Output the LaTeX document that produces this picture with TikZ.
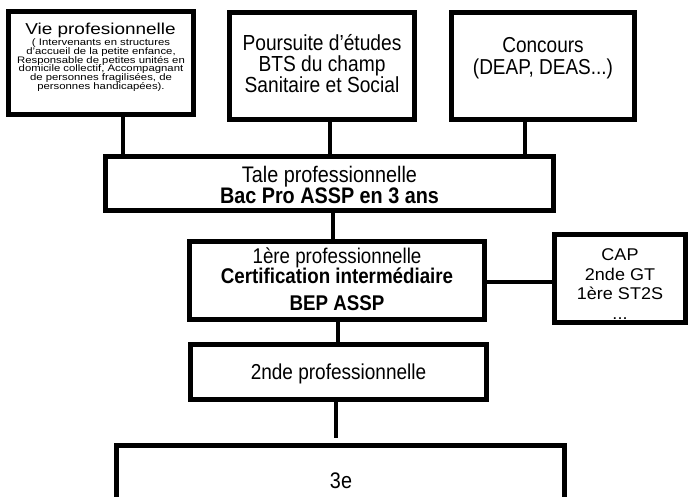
\documentclass[tikz,border=0pt]{standalone}
\usepackage{fontspec}
\setmainfont[FakeStretch=0.88]{Liberation Sans}
\newfontfamily\viefont[FakeStretch=1.2]{Liberation Sans}
\newfontfamily\sidefont[FakeStretch=1.06]{Liberation Sans}
\lineskiplimit=-30pt
\begin{document}
\begin{tikzpicture}[x=1pt,y=-1pt,
  box/.style={draw=black, line width=5pt, fill=white, inner sep=0pt},
  conn/.style={line width=4pt, draw=black},
  txt/.style={inner sep=0pt, align=center, text=black}]
\path[use as bounding box] (0,0) rectangle (688,496);
\clip (0,0) rectangle (688,496);
\fill[white] (0,0) rectangle (688,496);
% boxes
\node[box, minimum width=185pt, minimum height=103pt] (vie)   at (101,63) {};
\node[box, minimum width=185pt, minimum height=107pt] (pour)  at (322,66) {};
\node[box, minimum width=183pt, minimum height=107pt] (conc)  at (543,66) {};
\node[box, minimum width=448pt, minimum height=54pt]  (tale)  at (329.5,183.5) {};
\node[box, minimum width=295pt, minimum height=78pt]  (prem)  at (337,280.5) {};
\node[box, minimum width=131pt, minimum height=88pt]  (side)  at (620,278.5) {};
\node[box, minimum width=296pt, minimum height=55pt]  (sec)   at (338.5,372) {};
\node[box, minimum width=448pt, minimum height=82pt]  (trois) at (340.5,486.5) {};
% texts
\node[txt, anchor=base, font=\fontsize{15.8}{16}\viefont] (vie-t) at (100.5,34) {Vie profesionnelle};
\node[txt, font=\fontsize{9.45}{8.75}\viefont] (vie-b) at (101,65.1)
  {( Intervenants en structures\\ d’accueil de la petite enfance,\\ Responsable de petites unités en\\ domicile collectif, Accompagnant\\ de personnes fragilisées, de\\ personnes handicapées).};
\node[txt, font=\fontsize{21.8}{21}\selectfont] (pour-t) at (322,64) {Poursuite d’études\\ BTS du champ\\ Sanitaire et Social};
\node[txt, font=\fontsize{21.6}{22}\selectfont] (conc-t) at (543,58.4) {Concours\\ (DEAP, DEAS...)};
\node[txt, font=\fontsize{22.5}{21}\selectfont] (tale-t) at (329.5,184.8) {Tale professionnelle\\ \textbf{Bac Pro ASSP en 3 ans}};
\node[txt, font=\fontsize{21.3}{20}\selectfont] (prem-t) at (337,279.6) {1ère professionnelle\\ \textbf{Certification intermédiaire}\\[7pt] \textbf{BEP ASSP}};
\node[txt, font=\fontsize{17}{19.7}\sidefont] (side-t) at (620,284) {CAP\\ 2nde GT\\ 1ère ST2S\\ ...};
\node[txt, anchor=base, font=\fontsize{21.6}{22}\selectfont] (sec-t) at (338.5,379.5) {2nde professionnelle};
\node[txt, anchor=base, font=\fontsize{22.5}{23}\selectfont] (trois-t) at (341,488) {3e};
% connectors
\coordinate (gap) at (336,438);
\draw[conn] (vie.south -| 123,0) -- (tale.north -| 123,0);
\draw[conn] (pour.south -| 330,0) -- (tale.north -| 330,0);
\draw[conn] (conc.south -| 525,0) -- (tale.north -| 525,0);
\draw[conn] (tale.south -| 333,0) -- (prem.north -| 333,0);
\draw[conn] (prem.east |- 0,282) -- (side.west |- 0,282);
\draw[conn] (prem.south -| 338,0) -- (sec.north -| 338,0);
\draw[conn] (sec.south -| gap) -- (gap);
\end{tikzpicture}
\end{document}
